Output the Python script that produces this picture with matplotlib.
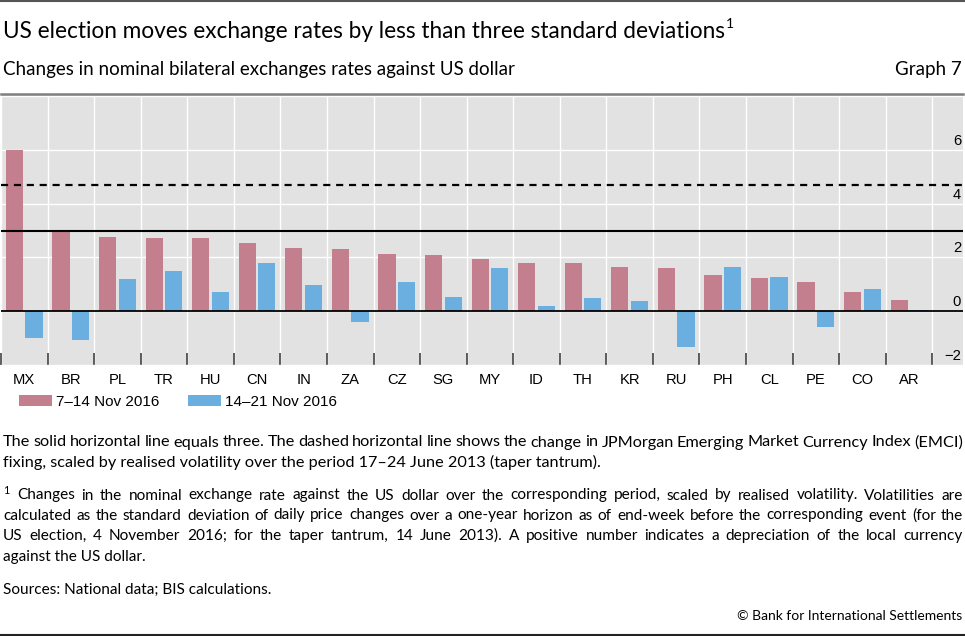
import matplotlib
matplotlib.use("Agg")
import matplotlib.pyplot as plt
import matplotlib.transforms as mtrans
import numpy as np

# data
countries = ["MX", "BR", "PL", "TR", "HU", "CN", "IN", "ZA", "CZ", "SG",
             "MY", "ID", "TH", "KR", "RU", "PH", "CL", "PE", "CO", "AR"]
nov_7_14 = [6.00, 3.02, 2.77, 2.72, 2.72, 2.53, 2.37, 2.31, 2.12, 2.09,
            1.94, 1.81, 1.81, 1.64, 1.61, 1.33, 1.22, 1.09, 0.73, 0.41]
nov_14_21 = [-0.98, -1.08, 1.19, 1.51, 0.71, 1.81, 0.99, -0.41, 1.10, 0.52,
             1.60, 0.21, 0.51, 0.37, -1.34, 1.64, 1.28, -0.60, 0.82, 0.05]
three_sd = 3.0
emci_taper = 4.69
yticks = [-2, 0, 2, 4, 6]
ytick_labels = ["\u22122", "0", "2", "4", "6"]

title = "US election moves exchange rates by less than three standard deviations"
subtitle = "Changes in nominal bilateral exchanges rates against US dollar"
note_lines = [
    "The solid horizontal line equals three. The dashed horizontal line shows the change in JPMorgan Emerging Market Currency Index (EMCI)",
    "fixing, scaled by realised volatility over the period 17\u201324 June 2013 (taper tantrum).",
]
foot_lines = [
    "Changes in the nominal exchange rate against the US dollar over the corresponding period, scaled by realised volatility. Volatilities are",
    "calculated as the standard deviation of daily price changes over a one-year horizon as of end-week before the corresponding event (for the",
    "US election, 4 November 2016; for the taper tantrum, 14 June 2013). A positive number indicates a depreciation of the local currency",
    "against the US dollar.",
]
sources = "Sources: National data; BIS calculations."

RED = "#c47f8f"
BLUE = "#6baee0"
BG = "#e2e2e2"
TXT = "Lato"
NUM = "Liberation Sans"

W, H = 965, 636
fig = plt.figure(figsize=(W / 100, H / 100), dpi=100)
ax = fig.add_axes([1 / W, 1 - 365 / H, 962 / W, (365 - 94) / H])
ax.set_facecolor(BG)

x = np.arange(len(countries))
ax.bar(x - 0.21, nov_7_14, 0.37, color=RED, label="7\u201314 Nov 2016", zorder=3)
ax.bar(x + 0.21, nov_14_21, 0.37, color=BLUE, label="14\u201321 Nov 2016", zorder=3)

ax.axhline(0, color="black", lw=1.3, zorder=4)
ax.axhline(three_sd, color="black", lw=1.5, zorder=4)
ax.axhline(emci_taper, color="black", lw=1.6, ls=(0, (3.2, 2.6)), zorder=4)

ax.set_xlim(-0.5, 20.16)
ax.set_ylim(-2, 8.08)

ax.set_yticks([-2, 0, 2, 4, 6, 8])
ax.set_yticklabels([])
ax.tick_params(axis="y", length=0)
ax.set_xticks(x, countries, fontfamily=NUM, fontsize=10.6)
ax.set_xticks(np.arange(-0.5, 20, 1), minor=True)
ax.tick_params(axis="x", which="major", length=0, pad=6)
ax.tick_params(axis="x", which="minor", direction="in", length=8.5, width=1.1, color="#333333")
ax.grid(axis="y", color="white", lw=1, zorder=1)
ax.grid(axis="x", which="minor", color="white", lw=1, zorder=1)
ax.set_axisbelow(True)

for s in ["left", "right", "bottom"]:
    ax.spines[s].set_visible(False)
ax.spines["top"].set_color("#808080")
ax.spines["top"].set_linewidth(1.8)

# y labels sit inside, on the right, just above their grid line
lift = mtrans.ScaledTranslation(0, 5 / 100, fig.dpi_scale_trans)
for v, lab in zip(yticks, ytick_labels):
    ax.text(960 / 962, v, lab, transform=ax.get_yaxis_transform() + lift,
            ha="right", va="baseline", fontfamily=NUM, fontsize=10.6, zorder=5)

leg = ax.legend(loc="upper left", bbox_to_anchor=(19 / W, 1 - 395 / H),
                bbox_transform=fig.transFigure, ncol=2, frameon=False,
                prop={"family": NUM, "size": 11}, handlelength=2.15,
                handleheight=0.7, handletextpad=0.25, columnspacing=1.9,
                borderpad=0, borderaxespad=0)

# frame lines of the graph
fig.add_artist(plt.Line2D([0, 1], [1 - 1 / H, 1 - 1 / H], color="#555555", lw=1.5))
fig.add_artist(plt.Line2D([0, 1], [1 - 635 / H, 1 - 635 / H], color="#222222", lw=1.5))

renderer = fig.canvas.get_renderer()


def width_px(t):
    return t.get_window_extent(renderer).width


def px(xp, yp):
    return xp / W, 1 - yp / H


t = fig.text(*px(3, 37.5), title, fontfamily=TXT, fontsize=16.3, va="baseline")
tw = width_px(t)
fig.text(*px(3 + tw + 1, 28), "1", fontfamily=TXT, fontsize=10, va="baseline")
fig.text(*px(3, 75), subtitle, fontfamily=TXT, fontsize=13.5, va="baseline")
fig.text(*px(962, 75), "Graph 7", fontfamily=TXT, fontsize=13.5, va="baseline", ha="right")


def line(x0, yb, text, size, justify):
    if not justify:
        fig.text(*px(x0, yb), text, fontfamily=TXT, fontsize=size, va="baseline")
        return
    words = text.split(" ")
    objs = [fig.text(*px(x0, yb), w, fontfamily=TXT, fontsize=size, va="baseline") for w in words]
    ws = [width_px(o) for o in objs]
    gap = (963 - x0 - sum(ws)) / (len(words) - 1)
    xp = x0
    for o, w in zip(objs, ws):
        o.set_position(px(xp, yb))
        xp += w + gap


FS1 = 11.7
FS2 = 11.1
line(3, 446.5, note_lines[0], FS1, True)
line(3, 466.5, note_lines[1], FS1, False)
fig.text(*px(3, 494), "1", fontfamily=TXT, fontsize=7.8, va="baseline")
line(17, 499.5, foot_lines[0], FS2, True)
line(3, 519.5, foot_lines[1], FS2, True)
line(3, 540, foot_lines[2], FS2, True)
line(3, 561, foot_lines[3], FS2, False)
line(3, 594, sources, FS2, False)
fig.text(*px(962, 620), "\u00a9 Bank for International Settlements", fontfamily=TXT,
         fontsize=10, va="baseline", ha="right")

fig.savefig("out.png", dpi=100)
